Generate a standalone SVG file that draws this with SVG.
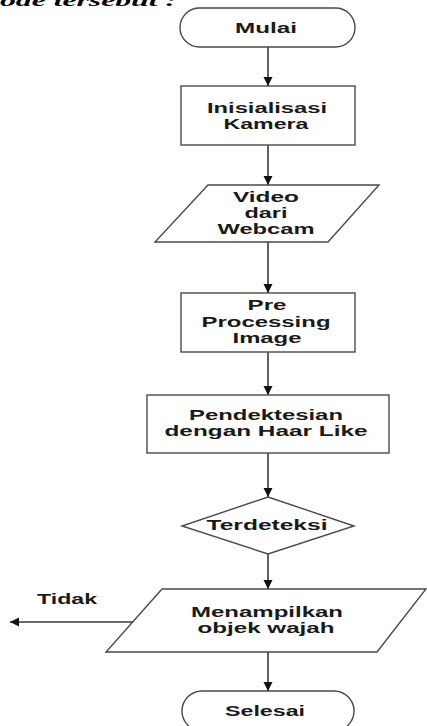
<svg xmlns="http://www.w3.org/2000/svg" width="427" height="726" viewBox="0 0 427 726">
<style>
.shape{fill:#fff;stroke:#4a4a4a;stroke-width:1.4}
.edge{fill:none;stroke:#3a3a3a;stroke-width:1.6}
.lbl{font-family:"Liberation Sans",Arial,sans-serif;font-weight:bold;font-size:14.5px;fill:#1a1a1a;text-anchor:middle}
.hdr{font-family:"Liberation Serif","Times New Roman",serif;font-weight:bold;font-style:italic;font-size:17px;fill:#000}
</style>
<defs>
<marker id="arr" markerUnits="userSpaceOnUse" markerWidth="10" markerHeight="10" refX="9" refY="4.5" orient="auto">
<path d="M0,0 L9,4.5 L0,9 z" fill="#111"/>
</marker>
</defs>
<rect width="427" height="726" fill="#fff"/>
<text class="hdr" x="0" y="6" textLength="176" lengthAdjust="spacingAndGlyphs">ode tersebut :</text>

<g id="connectors">
<line class="edge" x1="268" y1="47" x2="268" y2="86" marker-end="url(#arr)"/>
<line class="edge" x1="268" y1="145" x2="268" y2="185" marker-end="url(#arr)"/>
<line class="edge" x1="268" y1="242" x2="268" y2="293" marker-end="url(#arr)"/>
<line class="edge" x1="268" y1="352" x2="268" y2="395" marker-end="url(#arr)"/>
<line class="edge" x1="268" y1="453" x2="268" y2="497" marker-end="url(#arr)"/>
<line class="edge" x1="268" y1="554" x2="268" y2="589" marker-end="url(#arr)"/>
<line class="edge" x1="268" y1="652" x2="268" y2="691" marker-end="url(#arr)"/>
<line class="edge" x1="133" y1="622" x2="10" y2="622" marker-end="url(#arr)"/>
<text class="lbl" x="67" y="604" textLength="60" lengthAdjust="spacingAndGlyphs">Tidak</text>
</g>

<g id="mulai">
<rect class="shape" x="180" y="8" width="175" height="39" rx="19.5"/>
<text class="lbl" x="266" y="33" textLength="62" lengthAdjust="spacingAndGlyphs">Mulai</text>
</g>

<g id="inisialisasi">
<rect class="shape" x="181" y="86" width="174" height="59"/>
<text class="lbl" x="267" y="113" textLength="120" lengthAdjust="spacingAndGlyphs">Inisialisasi</text>
<text class="lbl" x="266" y="129" textLength="85" lengthAdjust="spacingAndGlyphs">Kamera</text>
</g>

<g id="video">
<polygon class="shape" points="208,185 379,185 328,242 155,242"/>
<text class="lbl" x="266" y="202" textLength="66" lengthAdjust="spacingAndGlyphs">Video</text>
<text class="lbl" x="266" y="218" textLength="43" lengthAdjust="spacingAndGlyphs">dari</text>
<text class="lbl" x="266" y="234" textLength="97" lengthAdjust="spacingAndGlyphs">Webcam</text>
</g>

<g id="preprocessing">
<rect class="shape" x="181" y="293" width="174" height="59"/>
<text class="lbl" x="267" y="310" textLength="39" lengthAdjust="spacingAndGlyphs">Pre</text>
<text class="lbl" x="266" y="327" textLength="129" lengthAdjust="spacingAndGlyphs">Processing</text>
<text class="lbl" x="267" y="343" textLength="69" lengthAdjust="spacingAndGlyphs">Image</text>
</g>

<g id="pendektesian">
<rect class="shape" x="147" y="395" width="242" height="58"/>
<text class="lbl" x="266" y="420" textLength="154" lengthAdjust="spacingAndGlyphs">Pendektesian</text>
<text class="lbl" x="266" y="436" textLength="203" lengthAdjust="spacingAndGlyphs">dengan Haar Like</text>
</g>

<g id="terdeteksi">
<polygon class="shape" points="268,497 354,526 268,554 182,526"/>
<text class="lbl" x="267" y="530" textLength="121" lengthAdjust="spacingAndGlyphs">Terdeteksi</text>
</g>

<g id="menampilkan">
<polygon class="shape" points="162,589 426,589 377,652 106,652"/>
<text class="lbl" x="267" y="617" textLength="152" lengthAdjust="spacingAndGlyphs">Menampilkan</text>
<text class="lbl" x="266" y="633" textLength="137" lengthAdjust="spacingAndGlyphs">objek wajah</text>
</g>

<g id="selesai">
<rect class="shape" x="182" y="691" width="172" height="40" rx="20"/>
<text class="lbl" x="265" y="716" textLength="80" lengthAdjust="spacingAndGlyphs">Selesai</text>
</g>
</svg>
